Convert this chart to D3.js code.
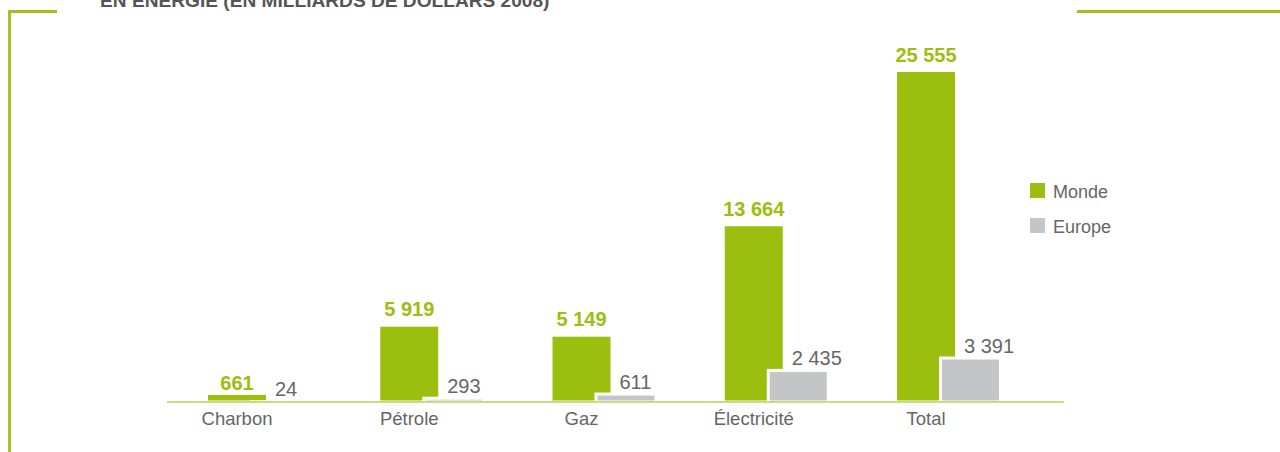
<!DOCTYPE html>
<html>
<head>
<meta charset="utf-8">
<script src="https://cdn.jsdelivr.net/npm/d3@7"></script>
<style>
  html, body { margin: 0; padding: 0; background: #fff; }
  svg { display: block; font-family: "Liberation Sans", Arial, Helvetica, sans-serif; }
</style>
</head>
<body>
<svg id="chart" width="1280" height="452"></svg>
<script>
const categories = ["Charbon", "Pétrole", "Gaz", "Électricité", "Total"];
const monde = [661, 5919, 5149, 13664, 25555];
const europe = [24, 293, 611, 2435, 3391];
const seriesNames = ["Monde", "Europe"];
const title = "EN ÉNERGIE (EN MILLIARDS DE DOLLARS 2008)";

const GREEN = "#9bbe0f";
const GREY = "#c4c5c7";
const TEXT = "#666666";
const FRAME = "#9cc21a";
const AXIS = "#c6dd80";

const svg = d3.select("#chart");
const base = 402;

const fmt = v => d3.format(",")(v).replace(/,/g, " ");

const x = d3.scaleBand().domain(categories).range([165, 1026.25]).padding(0);
const y = d3.scaleLinear().domain([0, d3.max(monde)]).range([base, 70.5]);

// frame
svg.append("path")
  .attr("d", "M57,11.5 H9.5 V452")
  .attr("fill", "none").attr("stroke", FRAME).attr("stroke-width", 2.8);
svg.append("line")
  .attr("x1", 1077).attr("x2", 1280).attr("y1", 11.5).attr("y2", 11.5)
  .attr("stroke", FRAME).attr("stroke-width", 2.8);

// title (clipped at top)
const t = svg.append("text")
  .attr("x", 100).attr("y", 7)
  .attr("fill", "#555").attr("font-weight", "bold").attr("font-size", 19)
  .text(title);
const tl = t.node().getComputedTextLength();
t.attr("font-size", 19 * 450 / tl);

const gOff = 41.5, gW = 61, eOff = 86.5, eW = 60;

// Monde bars
svg.append("g").selectAll("rect").data(categories).join("rect")
  .attr("x", d => x(d) + gOff)
  .attr("y", (d, i) => y(monde[i]))
  .attr("width", gW)
  .attr("height", (d, i) => base - y(monde[i]))
  .attr("fill", GREEN)
  .attr("stroke", "#fff").attr("stroke-width", 3);

// Europe bars
svg.append("g").selectAll("rect").data(categories).join("rect")
  .attr("x", d => x(d) + eOff)
  .attr("y", (d, i) => y(europe[i]))
  .attr("width", eW)
  .attr("height", (d, i) => base - y(europe[i]))
  .attr("fill", GREY)
  .attr("stroke", "#fff").attr("stroke-width", 3);

// axis line
svg.append("line")
  .attr("x1", 167).attr("x2", 1064).attr("y1", base).attr("y2", base)
  .attr("stroke", AXIS).attr("stroke-width", 2);

// Monde labels
svg.append("g").selectAll("text").data(categories).join("text")
  .attr("x", d => x(d) + gOff + gW / 2)
  .attr("y", (d, i) => (base - y(monde[i]) < 20) ? base - 12 : y(monde[i]) - 9)
  .attr("text-anchor", "middle")
  .attr("fill", GREEN).attr("font-weight", "bold").attr("font-size", 20)
  .text((d, i) => fmt(monde[i]));

// Europe labels
svg.append("g").selectAll("text").data(categories).join("text")
  .attr("x", d => x(d) + 110)
  .attr("y", (d, i) => y(europe[i]) - 5.5)
  .attr("text-anchor", "start")
  .attr("fill", TEXT).attr("font-size", 20)
  .text((d, i) => fmt(europe[i]));

// category labels
svg.append("g").selectAll("text").data(categories).join("text")
  .attr("x", d => x(d) + gOff + gW / 2)
  .attr("y", 425)
  .attr("text-anchor", "middle")
  .attr("fill", TEXT).attr("font-size", 18.5)
  .text(d => d);

// legend
const legColors = [GREEN, GREY];
const leg = svg.append("g").selectAll("g").data(seriesNames).join("g")
  .attr("transform", (d, i) => `translate(1030, ${183 + i * 35})`);
leg.append("rect").attr("width", 15).attr("height", 15).attr("fill", (d, i) => legColors[i]);
leg.append("text").attr("x", 23).attr("y", 15)
  .attr("fill", TEXT).attr("font-size", 18)
  .text(d => d);
</script>
</body>
</html>
